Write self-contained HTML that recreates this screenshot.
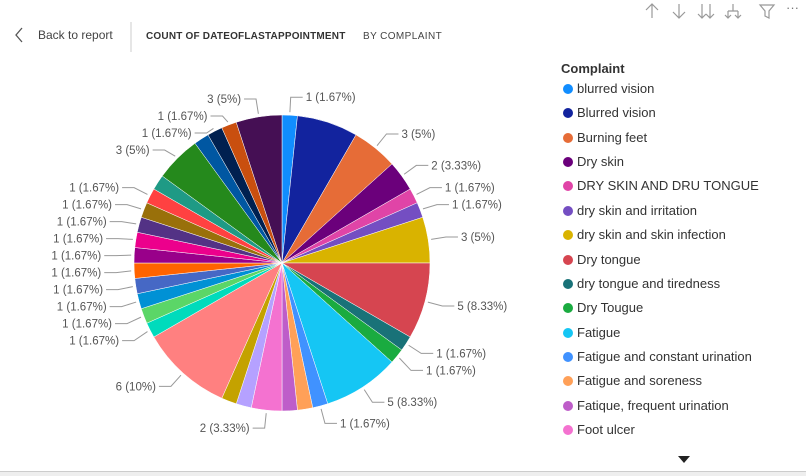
<!DOCTYPE html>
<html><head><meta charset="utf-8"><style>
body{margin:0;width:806px;height:475px;background:#fff;font-family:"Liberation Sans",sans-serif;overflow:hidden;position:relative}
.abs{position:absolute}
.leg{position:absolute;left:563px;font-size:13px;color:#333;white-space:nowrap}
.leg i{display:inline-block;width:10px;height:10px;border-radius:50%;margin-right:4px;vertical-align:-1px}
</style></head><body>
<svg class="abs" style="left:0;top:0" width="806" height="60">
<path d="M22,28 L16,35 L22,42" fill="none" stroke="#555" stroke-width="1.3"/>
<text x="38" y="39" font-size="12" fill="#444">Back to report</text>
<line x1="131" y1="22" x2="131" y2="52" stroke="#ccc"/>
<text x="146" y="39" font-size="10" font-weight="bold" fill="#333" letter-spacing="0.2">COUNT OF DATEOFLASTAPPOINTMENT</text>
<text x="363" y="39" font-size="10" fill="#444" letter-spacing="0.4">BY COMPLAINT</text>
<g stroke="#999" fill="none" stroke-width="1.2">
<path d="M652,4 V18 M646,10 L652,4 L658,10"/>
<path d="M679,4 V18 M673,12 L679,18 L685,12"/>
<path d="M702,4 V18 M710,4 V18 M698,14 L702,18 L706,14 M706,14 L710,18 L714,14"/>
<path d="M733,4 V11 M728,11 H738 M728,11 V18 M738,11 V18 M725,15 L728,18 L731,15 M735,15 L738,18 L741,15"/>
<path d="M760,5 H774 L769,11 V18 L765,16 V11 Z"/>
</g>
<text x="786" y="12" font-size="13" fill="#777">···</text>
</svg>
<svg id="pie" class="abs" style="left:0;top:0" width="550" height="475"></svg>
<div class="abs" style="left:561px;top:61px;font-size:13px;font-weight:bold;color:#333">Complaint</div>
<div id="legend"></div>
<svg class="abs" style="left:678px;top:456px" width="12" height="8"><path d="M0,0 H12 L6,7 Z" fill="#222"/></svg>
<div class="abs" style="left:0;top:471px;width:806px;height:4px;background:#eee;border-top:1px solid #ccc"></div>
<script>
const categories=["blurred vision","Blurred vision","Burning feet","Dry skin","DRY SKIN AND DRU TONGUE","dry skin and irritation","dry skin and skin infection","Dry tongue","dry tongue and tiredness","Dry Tougue","Fatigue","Fatigue and constant urination","Fatigue and soreness","Fatique, frequent urination","Foot ulcer","c16","c17","c18","c19","c20","c21","c22","c23","c24","c25","c26","c27","c28","c29","c30","c31","c32","c33","c34"];
const values=[1,4,3,2,1,1,3,5,1,1,5,1,1,1,2,1,1,6,1,1,1,1,1,1,1,1,1,1,1,3,1,1,1,3];
const showLabel=[1,0,1,1,1,1,1,1,1,1,1,1,0,0,1,0,0,1,1,1,1,1,1,1,1,1,1,1,0,1,0,1,1,1];
const colors=["#118DFF","#12239E","#E66C37","#6B007B","#E044A7","#744EC2","#D9B300","#D64550","#197278","#1AAB40","#15C6F4","#4092FF","#FFA058","#BE5DC9","#F472D0","#B5A1FF","#C4A200","#FF8080","#00DBBC","#5BD667","#0091D5","#4668C5","#FF6300","#99008A","#EC008C","#533285","#99700A","#FF4141","#1F9A85","#25891C","#0057A2","#002050","#C94F0F","#450F54"];
const legendCount=15;
const NS="http://www.w3.org/2000/svg",svg=document.getElementById('pie');
const cx=282,cy=263,R=148;
const total=values.reduce((a,b)=>a+b,0);
function pt(a,r){return [cx+r*Math.sin(a),cy-r*Math.cos(a)];}
let acc=0;const labs=[];
values.forEach((v,i)=>{
 const a0=acc/total*2*Math.PI;acc+=v;const a1=acc/total*2*Math.PI;
 const p0=pt(a0,R),p1=pt(a1,R);
 const p=document.createElementNS(NS,'path');
 p.setAttribute('d',`M${cx},${cy} L${p0[0]},${p0[1]} A${R},${R} 0 ${a1-a0>Math.PI?1:0} 1 ${p1[0]},${p1[1]} Z`);
 p.setAttribute('fill',colors[i]);p.setAttribute('stroke','#fff');p.setAttribute('stroke-width','0.5');
 
 
 svg.appendChild(p);
 if(showLabel[i]){const am=(a0+a1)/2;const e=pt(am,R+3),m=pt(am,R+18);
  labs.push({am,e,m,y:m[1],right:Math.sin(am)>=0,txt:v+' ('+(+(v/total*100).toFixed(2))+'%)'});}
});
[true,false].forEach(side=>{
 const g=labs.filter(l=>l.right===side).sort((a,b)=>a.y-b.y);
 for(let k=1;k<g.length;k++){if(g[k].y-g[k-1].y<17)g[k].y=g[k-1].y+17;}
 g.forEach(l=>{
  const dir=side?1:-1;const mx=l.m[0],hx=mx+dir*12;
  const ln=document.createElementNS(NS,'polyline');
  ln.setAttribute('points',`${l.e[0]},${l.e[1]} ${mx},${l.y} ${hx},${l.y}`);
  ln.setAttribute('fill','none');ln.setAttribute('stroke','#999');
  
  
  svg.appendChild(ln);
  const t=document.createElementNS(NS,'text');
  t.setAttribute('x',hx+dir*3);t.setAttribute('y',l.y+4);
  t.setAttribute('font-size','11.5');t.setAttribute('fill','#555');
  t.setAttribute('text-anchor',side?'start':'end');
  t.textContent=l.txt;
  
  
  svg.appendChild(t);
 });
});
const lg=document.getElementById('legend');
for(let i=0;i<legendCount;i++){
 const d=document.createElement('div');d.className='leg';d.style.top=(81+i*24.36)+'px';
 d.innerHTML='<i style="background:'+colors[i]+'"></i>'+categories[i];
 
 
 lg.appendChild(d);
}
</script>
</body></html>
